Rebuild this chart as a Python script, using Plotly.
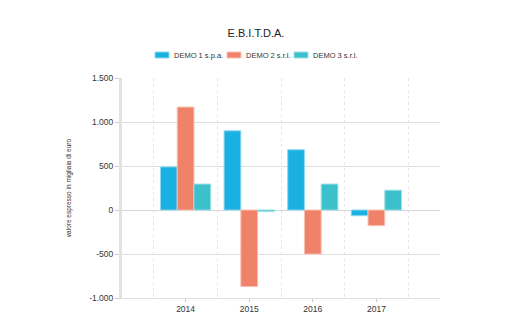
import plotly.graph_objects as go

years = ["2014", "2015", "2016", "2017"]
demo1 = [490, 900, 685, -65]
demo2 = [1170, -870, -500, -178]
demo3 = [295, -18, 295, 225]
series_names = ["DEMO 1 s.p.a.", "DEMO 2 s.r.l.", "DEMO 3 s.r.l."]
y_ticks = [-1000, -500, 0, 500, 1000, 1500]
y_tick_labels = ["-1.000", "-500", "0", "500", "1.000", "1.500"]

colors = ["#1ab0e2", "#f0826a", "#3cc0cb"]
edge = ["#8fd8f1", "#f8c1b4", "#9ee0e5"]

W, H = 512, 336
L, R, T, B = 122, 72, 78, 38
PW, PH = W - L - R, H - T - B

def px_x(x):
    return (x - L) / PW

def px_y(y):
    return (H - B - y) / PH

x_idx = list(range(len(years)))
fig = go.Figure()
for name, vals, c, e in zip(series_names, [demo1, demo2, demo3], colors, edge):
    fig.add_trace(go.Bar(x=x_idx, y=vals, name=name, showlegend=False,
                         marker=dict(color=c, line=dict(color=e, width=1))))

# custom legend (wide, flat swatches as in the reference)
legend_x = [155, 227, 294]
shapes = []
annotations = []
for lx, name, c, e in zip(legend_x, series_names, colors, edge):
    shapes.append(dict(type="rect", xref="paper", yref="paper",
                       x0=px_x(lx), x1=px_x(lx + 14), y0=px_y(58), y1=px_y(52),
                       fillcolor=c, line=dict(color=e, width=1)))
    annotations.append(dict(text=name, xref="paper", yref="paper", x=px_x(lx + 17), y=px_y(55),
                            xanchor="left", yanchor="middle", showarrow=False,
                            font=dict(size=7.5, color="#333333")))

fig.update_layout(
    width=W, height=H,
    margin=dict(l=L, r=R, t=T, b=B),
    paper_bgcolor="white", plot_bgcolor="white",
    font=dict(family="Liberation Sans, Arial, sans-serif", color="#333333", size=8),
    title=dict(text="E.B.I.T.D.A.", x=0.5, xanchor="center", y=1 - 33/336, yanchor="middle",
               font=dict(size=11, color="#222222")),
    barmode="group", bargap=0.21, bargroupgap=0,
    showlegend=False,
    shapes=shapes, annotations=annotations,
    xaxis=dict(range=[-1, 4], tickmode="array", tickvals=x_idx, ticktext=years,
               showgrid=False, zeroline=False, showline=True, linecolor="#dddddd", linewidth=1,
               ticks="outside", ticklen=3, tickcolor="#cccccc", tickfont=dict(size=8.5),
               minor=dict(tickmode="array", tickvals=[-0.5, 0.5, 1.5, 2.5, 3.5], showgrid=True,
                          gridcolor="#e6e6e6", griddash="3px,3px", gridwidth=1, ticklen=0)),
    yaxis=dict(range=[-1000, 1500], tickmode="array", tickvals=y_ticks, ticktext=y_tick_labels,
               showgrid=True, gridcolor="#dddddd", gridwidth=1,
               zeroline=True, zerolinecolor="#d6d6d6", zerolinewidth=1,
               showline=True, linecolor="#e2e2e2", linewidth=3,
               ticks="outside", ticklen=4, tickcolor="#cccccc", tickfont=dict(size=8.5),
               title=dict(text="valore espresso in migliaia di euro", font=dict(size=6.5, color="#333333"),
                          standoff=17)),
)

fig.write_html("out.html")
